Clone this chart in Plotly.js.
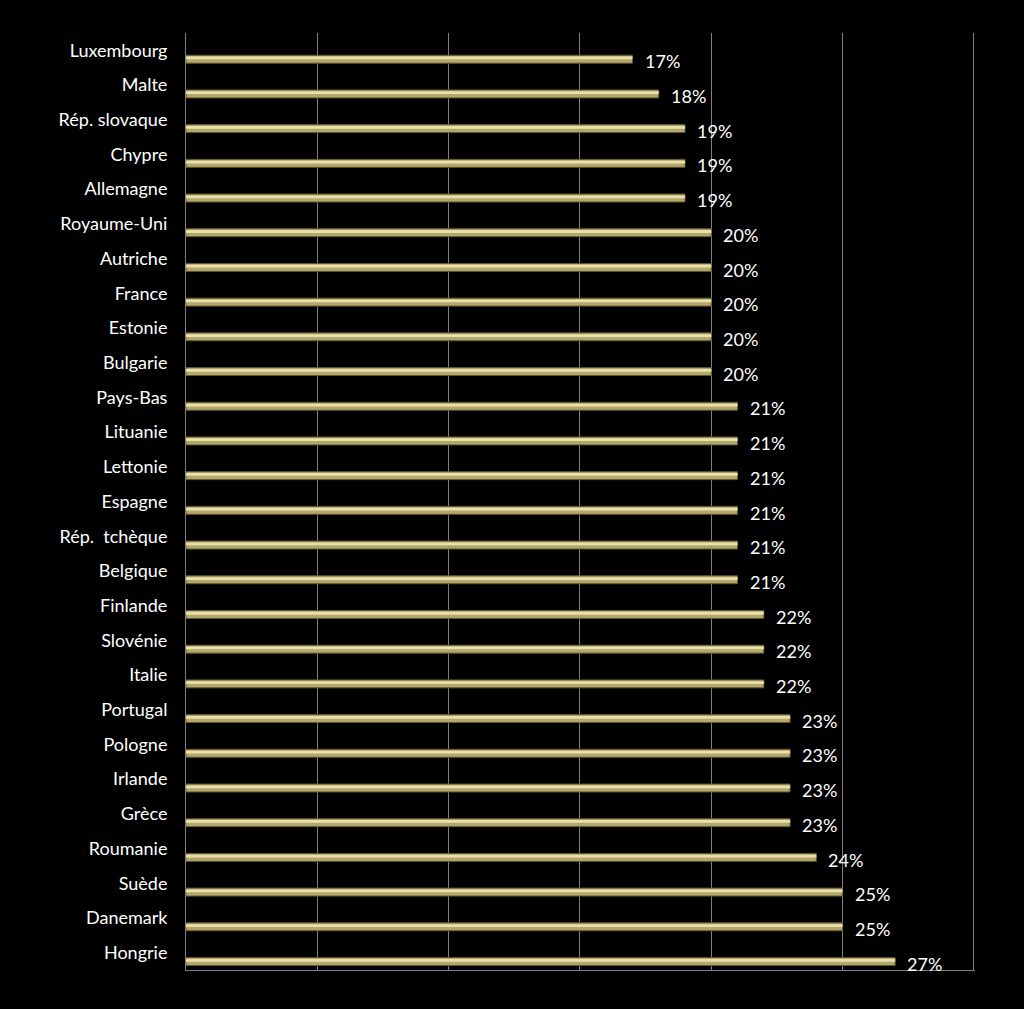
<!DOCTYPE html>
<html>
<head>
<meta charset="utf-8">
<script src="https://cdn.plot.ly/plotly-3.0.1.min.js"></script>
<style>html,body{margin:0;padding:0;background:#000;}#chart{width:1024px;height:1009px;}</style>
</head>
<body>
<div id="chart"></div>
<script>
const countries = ["Luxembourg","Malte","Rép. slovaque","Chypre","Allemagne","Royaume-Uni","Autriche","France","Estonie","Bulgarie","Pays-Bas","Lituanie","Lettonie","Espagne","Rép.\u00a0 tchèque","Belgique","Finlande","Slovénie","Italie","Portugal","Pologne","Irlande","Grèce","Roumanie","Suède","Danemark","Hongrie"];
const values = [17,18,19,19,19,20,20,20,20,20,21,21,21,21,21,21,22,22,22,23,23,23,23,24,25,25,27];
const valueLabels = values.map(v => v + "%");

const font = "Lato, 'Open Sans', sans-serif";

const base = {
  type: "bar", orientation: "h", x: values, y: countries,
  width: 0.23, offset: 0.14,
  marker: {color: "#b3a86c", line: {color: "#5e5530", width: 1}},
  hoverinfo: "skip"
};
const shine = {
  type: "bar", orientation: "h", x: values, y: countries,
  width: 0.08, offset: 0.18,
  marker: {color: "#e8dfaa", line: {width: 0}},
  hoverinfo: "skip"
};

const annotations = countries.map((c, i) => ({
  x: values[i], y: c, text: valueLabels[i], xref: "x", yref: "y",
  showarrow: false, xanchor: "left", yanchor: "middle",
  xshift: 10, yshift: -11,
  font: {family: font, size: 18, color: "#ffffff"}
}));

const layout = {
  paper_bgcolor: "#000", plot_bgcolor: "#000",
  width: 1024, height: 1009,
  margin: {l: 186, r: 49, t: 33, b: 39},
  showlegend: false,
  barmode: "overlay",
  xaxis: {range: [0, 30.04], tickvals: [5, 10, 15, 20, 25, 30], showgrid: true, gridcolor: "#7f7f7f", gridwidth: 1,
          showticklabels: false, zeroline: false, showline: true, linecolor: "#7f7f7f", linewidth: 1, ticks: "", fixedrange: true},
  yaxis: {type: "category", range: [26.5, -0.5], autorange: false, showgrid: false, showline: true, linecolor: "#7f7f7f", linewidth: 1,
          ticks: "", ticklabelstandoff: 14, tickfont: {family: font, size: 18, color: "#ffffff"}, zeroline: false, fixedrange: true},
  annotations: annotations
};

Plotly.newPlot("chart", [base, shine], layout, {displayModeBar: false, staticPlot: true});
</script>
</body>
</html>
